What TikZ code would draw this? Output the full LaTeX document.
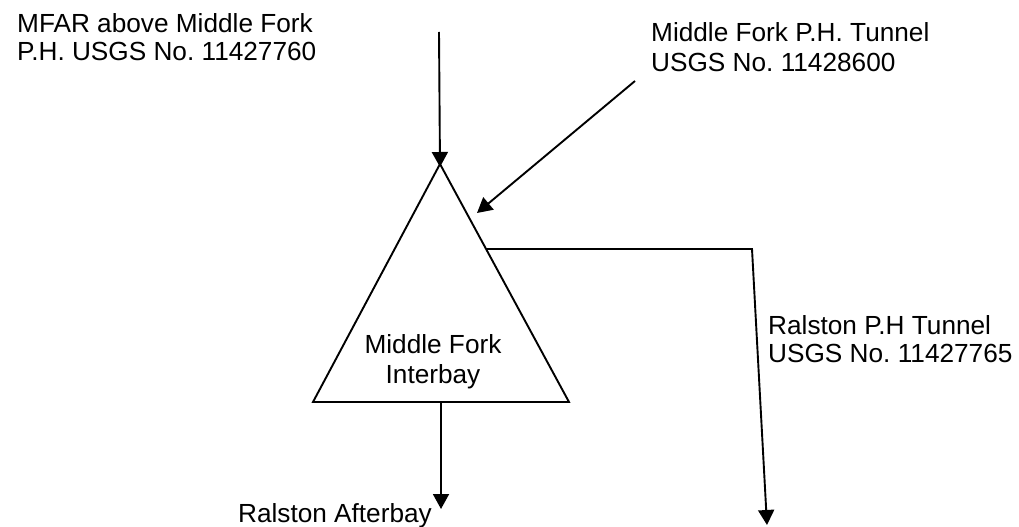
\documentclass[tikz,border=0pt]{standalone}
\usepackage{fontspec}
\setmainfont{Liberation Sans}
\usetikzlibrary{arrows.meta}
\frenchspacing
\begin{document}
\begin{tikzpicture}[x=1bp,y=-1bp,
  line/.style={line width=1.9bp, black},
  flow/.style={line, -{Triangle[length=15bp,width=16bp]}},
  lbl/.style={inner sep=0pt, font=\frenchspacing\fontsize{26.3}{#1}\selectfont, align=left, anchor=north west},
  lbl/.default=28]
\useasboundingbox (0,0) rectangle (1019,527);
% triangle (reservoir)
\coordinate (apex) at (440,164);
\coordinate (bl) at (313,402);
\coordinate (br) at (569,402);
\coordinate (bmid) at (441,402);
\coordinate (rside) at (486,249);
\coordinate (tunnelhit) at (477,213);
\draw[line, line join=miter] (apex) -- (br) -- (bl) -- cycle;
\node[lbl=30, align=center, anchor=north] (interbay) at (433,334) {Middle Fork\\Interbay};
% inflow from above
\coordinate (topin) at (439,32);
\draw[flow] (topin) -- ([yshift=-3bp]apex);
% tunnel inflow
\coordinate (tunin) at (635,81);
\draw[flow] (tunin) -- (tunnelhit);
% outflow to Ralston P.H tunnel
\coordinate (corner) at (752,249);
\coordinate (ralstonend) at (767,525);
\draw[flow] (rside) -- (corner) -- (ralstonend);
% outflow to afterbay
\coordinate (afterbayend) at (441,509);
\draw[flow] (bmid) -- (afterbayend);
% labels
\node[lbl=28.5] (mfar) at (17,13) {MFAR above Middle Fork\\P.H. USGS No. 11427760};
\node[lbl=30] (mftunnel) at (651,22) {Middle Fork P.H. Tunnel\\USGS No. 11428600};
\node[lbl=28.5] (rtunnel) at (768,315) {Ralston P.H Tunnel\\USGS No. 11427765};
\node[inner sep=0pt, font=\fontsize{26.3}{28}\selectfont, anchor=base east] (afterbay) at (432,522) {Ralston Afterbay};
\end{tikzpicture}
\end{document}
